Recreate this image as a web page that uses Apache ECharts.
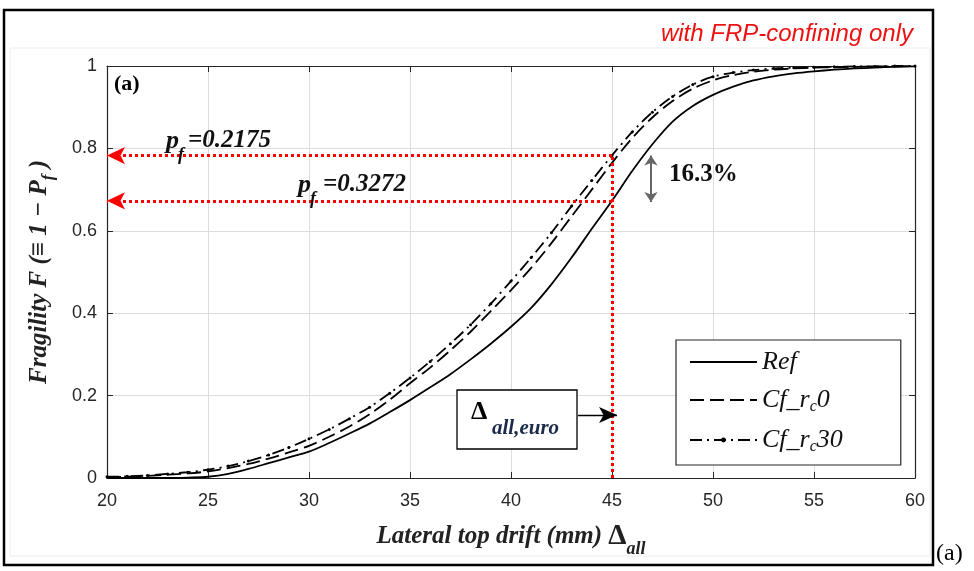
<!DOCTYPE html>
<html>
<head>
<meta charset="utf-8">
<script src="https://cdn.jsdelivr.net/npm/echarts@6/dist/echarts.min.js"></script>
<style>
  html, body { margin: 0; padding: 0; background: #fff; }
  #fragilityChart { width: 974px; height: 571px; }
</style>
</head>
<body>
<div id="fragilityChart"></div>
<script>
// lateral top drift (mm), read every 1 mm
const driftMm = [20, 21, 22, 23, 24, 25, 26, 27, 28, 29, 30, 31, 32, 33, 34, 35, 36, 37, 38, 39, 40,
  41, 42, 43, 44, 45, 46, 47, 48, 49, 50, 51, 52, 53, 54, 55, 56, 57, 58, 59, 60]
// fragility values
const refVals = [0, 0, 0, 0, 0.001, 0.003, 0.01, 0.022, 0.036, 0.05, 0.064, 0.085, 0.108, 0.132, 0.16, 0.189, 0.22, 0.252, 0.288, 0.326, 0.367,
  0.413, 0.47, 0.535, 0.605, 0.673, 0.745, 0.81, 0.865, 0.903, 0.93, 0.95, 0.965, 0.975, 0.982, 0.987, 0.991, 0.994, 0.996, 0.998, 0.999]
const cf0Vals = [0.002, 0.003, 0.005, 0.008, 0.011, 0.016, 0.024, 0.034, 0.047, 0.062, 0.078, 0.1, 0.125, 0.155, 0.19, 0.23, 0.268, 0.31, 0.355, 0.405, 0.456,
  0.51, 0.57, 0.635, 0.7, 0.765, 0.825, 0.875, 0.915, 0.945, 0.965, 0.978, 0.986, 0.991, 0.994, 0.996, 0.997, 0.998, 0.999, 0.999, 1.0]
const cf30Vals = [0.003, 0.004, 0.006, 0.01, 0.014, 0.02, 0.029, 0.041, 0.056, 0.074, 0.095, 0.118, 0.144, 0.172, 0.206, 0.243, 0.283, 0.326, 0.372, 0.423, 0.478,
  0.535, 0.595, 0.66, 0.722, 0.783, 0.84, 0.888, 0.926, 0.955, 0.974, 0.984, 0.99, 0.994, 0.996, 0.997, 0.998, 0.999, 0.999, 1.0, 1.0]
const seriesNames = ['Ref', 'Cf_rc0', 'Cf_rc30']
const xTicks = [20, 25, 30, 35, 40, 45, 50, 55, 60]
const yTicks = [0, 0.2, 0.4, 0.6, 0.8, 1]
// annotation values
const pfHigh = 0.2175   // Cf_rc30 at 45 mm
const pfLow = 0.3272    // Ref at 45 mm
const driftEuro = 45

const axisColor = '#262626'
const serif = 'Liberation Serif'

let myChart = echarts.init(document.getElementById('fragilityChart'))

const pairs = (vals) => driftMm.map((x, i) => [x, vals[i]])

const tickAxis = (pos, isX) => ({
  type: 'value',
  position: pos,
  min: isX ? xTicks[0] : yTicks[0],
  max: isX ? xTicks[xTicks.length - 1] : yTicks[yTicks.length - 1],
  interval: isX ? 5 : 0.2,
  axisLine: { show: true, onZero: false, lineStyle: { color: axisColor, width: 1.2 } },
  axisTick: { show: true, inside: true, length: 6, lineStyle: { color: axisColor } },
  axisLabel: { show: false },
  splitLine: { show: false }
})

let option = {
  animation: false,
  grid: { left: 107, right: 59, top: 66, bottom: 93, containLabel: false },
  legend: {
    data: [
      { name: 'Ref', itemStyle: { opacity: 0 } },
      { name: 'Cf_rc0', itemStyle: { opacity: 0 } },
      { name: 'Cf_rc30' }
    ],
    orient: 'vertical',
    left: 676,
    top: 340,
    backgroundColor: '#fff',
    borderColor: axisColor,
    borderWidth: 1.2,
    borderRadius: 0,
    padding: [9, 58, 10, 13],
    itemWidth: 67,
    itemHeight: 6,
    itemGap: 12,
    textStyle: {
      fontFamily: serif, fontStyle: 'italic', fontSize: 26, color: '#111',
      rich: {
        i: { fontFamily: serif, fontStyle: 'italic', fontSize: 26, lineHeight: 30, color: '#111' },
        s: { fontFamily: serif, fontStyle: 'italic', fontSize: 16, lineHeight: 14, verticalAlign: 'bottom', color: '#111' }
      }
    },
    formatter: (name) => {
      if (name === 'Ref') return '{i|Ref}'
      const tail = name.split('_rc')[1]
      return '{i|Cf_r}{s|c}{i|' + tail + '}'
    }
  },
  xAxis: [
    {
      type: 'value',
      position: 'bottom',
      min: 20, max: 60, interval: 5,
      axisLine: { show: true, onZero: false, lineStyle: { color: axisColor, width: 1.2 } },
      axisTick: { show: true, inside: true, length: 6, lineStyle: { color: axisColor } },
      axisLabel: { color: axisColor, fontFamily: 'Liberation Sans', fontSize: 18, margin: 14 },
      splitLine: { show: true, lineStyle: { color: '#dcdcdc', width: 1 } },
      name: '{t|Lateral top drift (mm) }{d|Δ}{s|all}',
      nameLocation: 'middle',
      nameGap: 38,
      nameTextStyle: {
        rich: {
          t: { fontFamily: serif, fontWeight: 'bold', fontStyle: 'italic', fontSize: 25, lineHeight: 42, color: '#222' },
          d: { fontFamily: serif, fontWeight: 'bold', fontSize: 29, lineHeight: 42, color: '#222' },
          s: { fontFamily: serif, fontWeight: 'bold', fontStyle: 'italic', fontSize: 18, lineHeight: 18, verticalAlign: 'bottom', color: '#222' }
        }
      }
    },
    tickAxis('top', true)
  ],
  yAxis: [
    {
      type: 'value',
      position: 'left',
      min: 0, max: 1, interval: 0.2,
      axisLine: { show: true, onZero: false, lineStyle: { color: axisColor, width: 1.2 } },
      axisTick: { show: true, inside: true, length: 6, lineStyle: { color: axisColor } },
      axisLabel: { color: axisColor, fontFamily: 'Liberation Sans', fontSize: 18, margin: 10 },
      splitLine: { show: true, lineStyle: { color: '#dcdcdc', width: 1 } },
      name: '{t|Fragility F (≡ 1 − P}{s|f}{t| )}',
      nameLocation: 'middle',
      nameGap: 50,
      nameTextStyle: {
        rich: {
          t: { fontFamily: serif, fontWeight: 'bold', fontStyle: 'italic', fontSize: 25, lineHeight: 34, color: '#222' },
          s: { fontFamily: serif, fontWeight: 'bold', fontStyle: 'italic', fontSize: 17, lineHeight: 16, verticalAlign: 'bottom', color: '#222' }
        }
      }
    },
    tickAxis('right', false)
  ],
  series: [
    {
      name: 'Ref', type: 'line', smooth: 0.3, showSymbol: false, symbol: 'none',
      lineStyle: { color: '#000', width: 1.8, type: 'solid' },
      itemStyle: { color: '#000' },
      data: pairs(refVals), z: 3
    },
    {
      name: 'Cf_rc0', type: 'line', smooth: 0.3, showSymbol: false, symbol: 'none',
      lineStyle: { color: '#000', width: 1.8, type: [14, 6] },
      itemStyle: { color: '#000' },
      data: pairs(cf0Vals), z: 3
    },
    {
      name: 'Cf_rc30', type: 'line', smooth: 0.3, showSymbol: true, symbol: 'circle', symbolSize: 3,
      lineStyle: { color: '#000', width: 1.8, type: [12, 5, 2, 5] },
      itemStyle: { color: '#000' },
      data: pairs(cf30Vals), z: 3
    },
    {
      // guide lines and arrows
      name: 'guides', type: 'line', data: [], silent: true,
      markLine: {
        silent: true,
        animation: false,
        label: { show: false },
        emphasis: { disabled: true },
        lineStyle: { color: '#ff0000', width: 3, type: [3, 3], cap: 'butt' },
        symbolSize: [13, 18],
        data: [
          [{ coord: [driftEuro, 0], symbol: 'none' }, { coord: [driftEuro, 1 - pfHigh], symbol: 'none' }],
          [{ coord: [driftEuro, 1 - pfHigh], symbol: 'none' }, { coord: [20, 1 - pfHigh], symbol: 'arrow' }],
          [{ coord: [driftEuro, 1 - pfLow], symbol: 'none' }, { coord: [20, 1 - pfLow], symbol: 'arrow' }],
          [{ coord: [43.32, 0.153], symbol: 'none', lineStyle: { color: '#000', width: 1.3, type: 'solid' } },
           { coord: [45.25, 0.153], symbol: 'arrow', symbolSize: [12, 18] }],
          [{ coord: [46.93, 0.783], symbol: 'arrow', symbolSize: [10, 10], lineStyle: { color: '#666', width: 2, type: 'solid' } },
           { coord: [46.93, 0.67], symbol: 'arrow', symbolSize: [10, 10] }]
        ]
      },
      z: 4
    }
  ],
  graphic: [
    { type: 'rect', z: 0, shape: { x: 10, y: 48, width: 920, height: 508 }, style: { fill: 'none', stroke: '#ececec', lineWidth: 1 } },
    { type: 'rect', z: 100, shape: { x: 4, y: 10, width: 929, height: 555 }, style: { fill: 'none', stroke: '#000', lineWidth: 2.5 } },
    { type: 'text', z: 100, x: 913, y: 22, style: { text: 'with FRP-confining only', font: 'italic 24px "Liberation Sans"', fill: '#ee1111', align: 'right', verticalAlign: 'top' } },
    { type: 'text', z: 100, x: 936, y: 542, style: { text: '(a)', font: '24px "Liberation Serif"', fill: '#000', align: 'left', verticalAlign: 'top' } },
    { type: 'text', z: 100, x: 114, y: 73, style: { text: '(a)', font: 'bold 22px "Liberation Serif"', fill: '#000', verticalAlign: 'top' } },
    // p_f labels
    { type: 'text', z: 100, x: 166, y: 128, style: { text: 'p', font: 'bold italic 26px "Liberation Serif"', fill: '#111', verticalAlign: 'top' } },
    { type: 'text', z: 100, x: 178, y: 146, style: { text: 'f', font: 'bold italic 18px "Liberation Serif"', fill: '#111', verticalAlign: 'top' } },
    { type: 'text', z: 100, x: 188, y: 128, style: { text: '=0.2175', font: 'bold italic 25px "Liberation Serif"', fill: '#111', verticalAlign: 'top' } },
    { type: 'text', z: 100, x: 298, y: 172, style: { text: 'p', font: 'bold italic 26px "Liberation Serif"', fill: '#111', verticalAlign: 'top' } },
    { type: 'text', z: 100, x: 310, y: 190, style: { text: 'f', font: 'bold italic 18px "Liberation Serif"', fill: '#111', verticalAlign: 'top' } },
    { type: 'text', z: 100, x: 323, y: 172, style: { text: '=0.3272', font: 'bold italic 25px "Liberation Serif"', fill: '#111', verticalAlign: 'top' } },
    { type: 'text', z: 100, x: 669, y: 162, style: { text: '16.3%', font: 'bold 25px "Liberation Serif"', fill: '#111', verticalAlign: 'top' } },
    // Δ_all,euro box
    { type: 'rect', z: 100, shape: { x: 457, y: 390, width: 120, height: 59 }, style: { fill: '#fff', stroke: '#000', lineWidth: 1.3 } },
    { type: 'text', z: 101, x: 471, y: 399, style: { text: 'Δ', font: 'bold 26px "Liberation Serif"', fill: '#000', verticalAlign: 'top' } },
    { type: 'text', z: 101, x: 492, y: 418, style: { text: 'all,euro', font: 'bold italic 21px "Liberation Serif"', fill: '#1b2a48', verticalAlign: 'top' } }
  ]
}

myChart.setOption(option)
</script>
</body>
</html>
